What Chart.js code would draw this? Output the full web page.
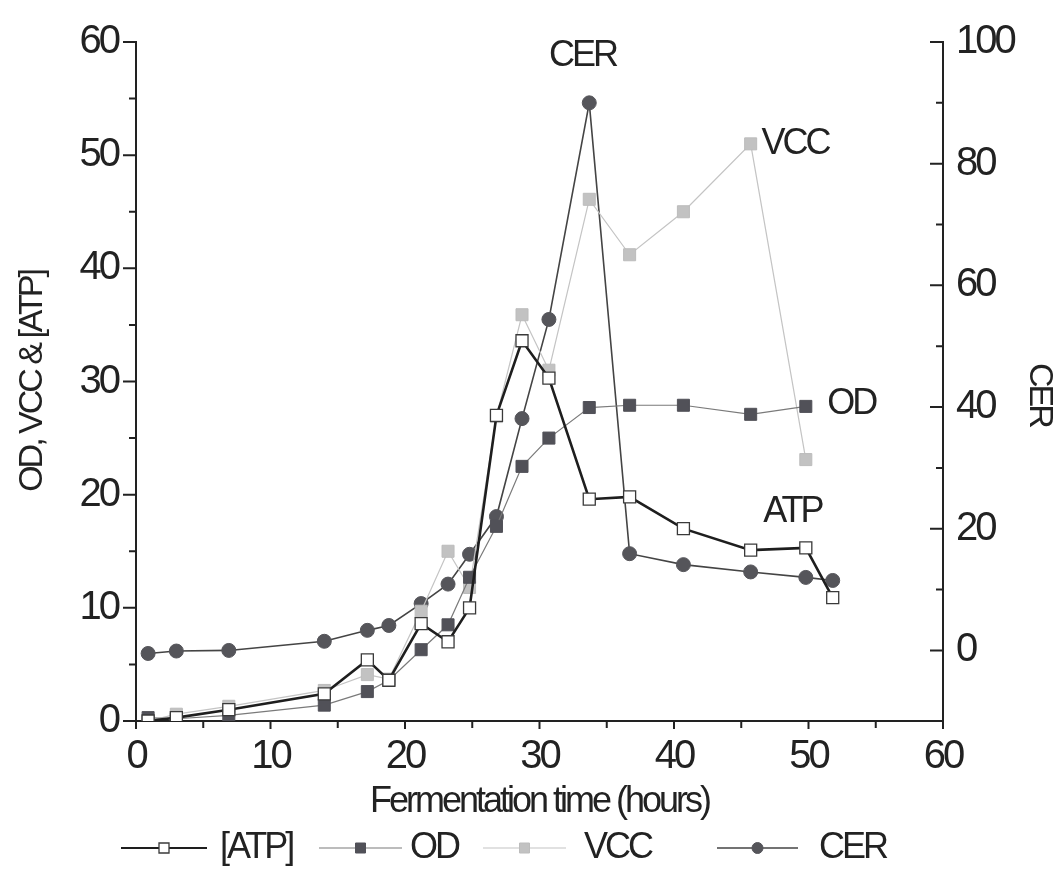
<!DOCTYPE html>
<html>
<head>
<meta charset="utf-8">
<style>
  html, body { margin: 0; padding: 0; background: #ffffff; }
  #wrap { width: 1062px; height: 870px; position: relative; }
</style>
<script src="https://cdn.jsdelivr.net/npm/chart.js@4.4.1/dist/chart.umd.min.js"></script>
</head>
<body>
<div id="wrap"><canvas id="c"></canvas></div>
<script>
// ---- data ----
const timeHours = [0.9, 3.0, 6.9, 14.0, 17.2, 18.8, 21.2, 23.2, 24.8, 26.8, 28.7, 30.7, 33.7, 36.7, 40.7, 45.7, 49.8, 51.8];
const atpValues = [0.0, 0.3, 1.0, 2.4, 5.4, 3.6, 8.6, 7.0, 10.0, 27.0, 33.6, 30.3, 19.6, 19.8, 17.0, 15.1, 15.3, 10.9];
const odValues  = [0.3, 0.2, 0.5, 1.4, 2.6, 3.6, 6.3, 8.5, 12.7, 17.2, 22.5, 25.0, 27.7, 27.9, 27.9, 27.1, 27.8, null];
const vccValues = [0.0, 0.6, 1.3, 2.7, 4.1, 3.7, 9.7, 15.0, 11.8, 26.9, 35.9, 31.0, 46.1, 41.2, 45.0, 51.0, 23.1, null];
const cerValues = [-0.5, -0.1, 0.0, 1.5, 3.3, 4.1, 7.7, 10.9, 15.8, 22.0, 38.1, 54.4, 90.0, 15.9, 14.1, 12.9, 12.0, 11.5];

const xTickLabels  = [0, 10, 20, 30, 40, 50, 60];
const yTickLabels  = [0, 10, 20, 30, 40, 50, 60];
const y2TickLabels = [0, 20, 40, 60, 80, 100];

const seriesNames = ['[ATP]', 'OD', 'VCC', 'CER'];
const seriesTags  = ['ATP', 'OD', 'VCC', 'CER'];
// in-plot series tags, anchored in data units (x hours, y left-axis units)
const tagX = [48.8, 51.4, 46.5, 33.2];
const tagY = [18.5, 28.0, 51.0, 58.8];
const tagAlign = ['center', 'left', 'left', 'center'];

// ---- styling ----
const FONT = "'Liberation Sans', Arial, sans-serif";
const INK = '#222222';

function pts(vals) {
  const out = [];
  for (let i = 0; i < timeHours.length; i++) {
    if (vals[i] !== null && vals[i] !== undefined) out.push({x: timeHours[i], y: vals[i]});
  }
  return out;
}

const datasets = [
  { label: seriesNames[0], data: pts(atpValues), yAxisID: 'y',
    borderColor: '#1e1e1e', borderWidth: 2.6, pointStyle: 'rect', pointRadius: 8.5,
    pointBackgroundColor: '#ffffff', pointBorderColor: '#3a3a3a', pointBorderWidth: 1.3, tension: 0 },
  { label: seriesNames[1], data: pts(odValues), yAxisID: 'y',
    borderColor: '#7a7a7a', borderWidth: 1.2, pointStyle: 'rect', pointRadius: 8.5,
    pointBackgroundColor: '#515158', pointBorderColor: '#515158', pointBorderWidth: 1, tension: 0 },
  { label: seriesNames[2], data: pts(vccValues), yAxisID: 'y',
    borderColor: '#c4c4c4', borderWidth: 1.2, pointStyle: 'rect', pointRadius: 8.5,
    pointBackgroundColor: '#c2c2c2', pointBorderColor: '#bcbcbc', pointBorderWidth: 1, tension: 0 },
  { label: seriesNames[3], data: pts(cerValues), yAxisID: 'y2',
    borderColor: '#444444', borderWidth: 1.6, pointStyle: 'circle', pointRadius: 7,
    pointBackgroundColor: '#55555a', pointBorderColor: '#55555a', pointBorderWidth: 1, tension: 0 }
];

// tight, condensed lettering like the reference
const tightText = {
  id: 'tightText',
  beforeDraw(chart) { chart.ctx.letterSpacing = '-3px'; }
};

// axis tick marks (major + minor), drawn against the library's scales
const tickMarks = {
  id: 'tickMarks',
  afterDraw(chart) {
    const ctx = chart.ctx;
    const {x, y, y2} = chart.scales;
    ctx.save();
    ctx.strokeStyle = INK;
    ctx.lineWidth = 2;
    ctx.beginPath();
    for (let v = 0; v <= 60; v += 5) {
      const px = x.getPixelForValue(v);
      const len = v % 10 === 0 ? 8 : 7;
      ctx.moveTo(px, x.top); ctx.lineTo(px, x.top + len);
      const py = y.getPixelForValue(v);
      const l2 = v % 10 === 0 ? 13 : 7;
      ctx.moveTo(y.right - l2, py); ctx.lineTo(y.right, py);
    }
    for (let v = 0; v <= 100; v += 10) {
      const py = y2.getPixelForValue(v);
      const l3 = v % 20 === 0 ? 13 : 7;
      ctx.moveTo(y2.left, py); ctx.lineTo(y2.left - l3, py);
    }
    ctx.stroke();
    ctx.restore();
  }
};

// series tags inside the plot + bottom legend
const tagsAndLegend = {
  id: 'tagsAndLegend',
  afterDraw(chart) {
    const ctx = chart.ctx;
    const {x, y} = chart.scales;
    ctx.save();
    ctx.letterSpacing = '-3px';
    ctx.fillStyle = INK;
    ctx.font = '36px ' + FONT;
    ctx.textBaseline = 'middle';
    for (let i = 0; i < seriesTags.length; i++) {
      ctx.textAlign = tagAlign[i];
      ctx.fillText(seriesTags[i], x.getPixelForValue(tagX[i]), y.getPixelForValue(tagY[i]));
    }
    // legend
    const ly = 848;
    const lines = [[121, 207], [319, 402], [483, 566], [717, 798]];
    const textX = [220, 410, 584, 819];
    chart.data.datasets.forEach((ds, i) => {
      const [a, b] = lines[i];
      const mid = (a + b) / 2;
      ctx.strokeStyle = ds.borderColor;
      ctx.lineWidth = Math.min(ds.borderWidth, 2);
      ctx.beginPath(); ctx.moveTo(a, ly); ctx.lineTo(b, ly); ctx.stroke();
      ctx.fillStyle = ds.pointBackgroundColor;
      ctx.strokeStyle = ds.pointBorderColor;
      ctx.lineWidth = ds.pointBorderWidth;
      ctx.beginPath();
      if (ds.pointStyle === 'circle') ctx.arc(mid, ly, 5.5, 0, Math.PI * 2);
      else ctx.rect(mid - 5, ly - 5, 10, 10);
      ctx.fill(); ctx.stroke();
      ctx.fillStyle = INK;
      ctx.textAlign = 'left';
      ctx.font = '36px ' + FONT;
      ctx.fillText(ds.label, textX[i], ly);
    });
    ctx.restore();
  }
};

new Chart(document.getElementById('c'), {
  type: 'line',
  data: { datasets },
  options: {
    responsive: true,
    maintainAspectRatio: false,
    animation: false,
    devicePixelRatio: 1,
    layout: { padding: { top: 36, left: 0, right: 0, bottom: 0 } },
    plugins: { legend: { display: false }, tooltip: { enabled: false } },
    scales: {
      x: {
        type: 'linear', position: 'bottom', min: 0, max: 60,
        afterBuildTicks: s => { s.ticks = xTickLabels.map(v => ({value: v})); },
        afterFit: s => { s.height = 149; },
        grid: { display: true, drawOnChartArea: false, drawTicks: false },
        border: { color: INK, width: 2 },
        ticks: { padding: 12, color: INK, font: { family: FONT, size: 40 }, maxRotation: 0, autoSkip: false },
        title: { display: true, text: 'Fermentation time (hours)', color: INK,
                 font: { family: FONT, size: 36 }, padding: { top: 0, bottom: 46 } }
      },
      y: {
        type: 'linear', position: 'left', min: 0, max: 60,
        afterBuildTicks: s => { s.ticks = yTickLabels.map(v => ({value: v})); },
        afterFit: s => { s.width = 136; },
        grid: { display: true, drawOnChartArea: false, drawTicks: false },
        border: { color: INK, width: 2 },
        ticks: { padding: 18, color: INK, font: { family: FONT, size: 40 } },
        title: { display: true, text: 'OD, VCC & [ATP]', color: INK,
                 font: { family: FONT, size: 34 }, padding: { top: 12, bottom: 0 } }
      },
      y2: {
        type: 'linear', position: 'right', min: -11.6, max: 100,
        afterBuildTicks: s => { s.ticks = y2TickLabels.map(v => ({value: v})); },
        afterFit: s => { s.width = 119; },
        grid: { display: true, drawOnChartArea: false, drawTicks: false },
        border: { color: INK, width: 2 },
        ticks: { padding: 13, color: INK, font: { family: FONT, size: 40 } },
        title: { display: true, text: '    CER', color: INK,
                 font: { family: FONT, size: 34 }, padding: { top: 2, bottom: 0 } }
      }
    }
  },
  plugins: [tightText, tickMarks, tagsAndLegend]
});
</script>
</body>
</html>
